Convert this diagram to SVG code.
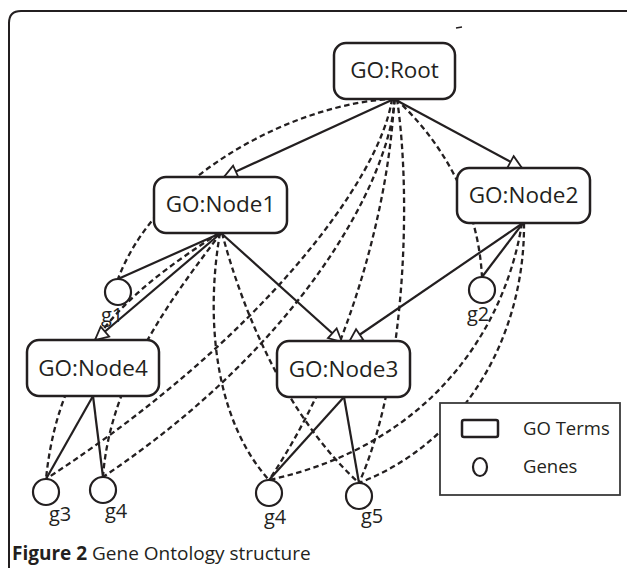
<svg xmlns="http://www.w3.org/2000/svg" width="627" height="568" viewBox="0 0 627 568">
<style>
.frame{fill:none;stroke:#231f20;stroke-width:2}
.box{fill:#fff;stroke:#231f20;stroke-width:2.5}
.gene{fill:#fff;stroke:#231f20;stroke-width:2.2}
.solid{fill:none;stroke:#231f20;stroke-width:2.2}
.dash{fill:none;stroke:#231f20;stroke-width:2.3;stroke-dasharray:5.5 3.5}
.t{font-family:"Open Sans","Liberation Sans",sans-serif;fill:#231f20}
.node{font-size:22.5px;text-anchor:middle}
.glbl{font-size:20px}
.leg{font-size:18.5px}
.cap{font-size:19px}
</style>
<defs>
<marker id="tri" viewBox="-2 -2 17 17" markerWidth="17" markerHeight="17" refX="13" refY="6.5" orient="auto" markerUnits="userSpaceOnUse">
<path d="M0,0 L13,6.5 L0,13 Z" fill="#fff" stroke="#231f20" stroke-width="1.8" stroke-linejoin="miter"/>
</marker>
</defs>
<rect width="627" height="568" fill="#fff"/>
<path class="frame" d="M9,568 V23 Q9,11 21,11 H627"/>
<path d="M456,28 L462,27" stroke="#231f20" stroke-width="1.5"/>

<g id="connectors">
<!-- dashed indirect annotations -->
<path class="dash" d="M394,99 C300,102 158,172 118,279"/>
<path class="dash" d="M396,99 C440,140 478,200 482,277"/>
<path class="dash" d="M392,99 C380,180 260,340 46,479"/>
<path class="dash" d="M395,99 C388,185 300,345 103,477"/>
<path class="dash" d="M394,99 C390,200 350,360 269,480"/>
<path class="dash" d="M397,99 C412,200 405,380 359,483"/>
<path class="dash" d="M219,233 C140,285 60,340 46,479"/>
<path class="dash" d="M221,233 C170,300 110,380 103,477"/>
<path class="dash" d="M220,233 C205,320 215,420 269,480"/>
<path class="dash" d="M222,233 C245,320 290,420 359,483"/>
<path class="dash" d="M522,223 C505,330 430,445 269,480"/>
<path class="dash" d="M524,223 C525,330 470,440 359,483"/>
<!-- solid relations -->
<path class="solid" d="M394,99 L224,177" marker-end="url(#tri)"/>
<path class="solid" d="M394,99 L522,168" marker-end="url(#tri)"/>
<path class="solid" d="M221,233 L118,279"/>
<path class="solid" d="M221,233 L95,340" marker-end="url(#tri)"/>
<path class="solid" d="M221,233 L342,342" marker-end="url(#tri)"/>
<path class="solid" d="M523,223 L349,342" marker-end="url(#tri)"/>
<path class="solid" d="M523,223 L482,277"/>
<path class="solid" d="M93,396 L46,479"/>
<path class="solid" d="M93,396 L103,477"/>
<path class="solid" d="M344,397 L269,480"/>
<path class="solid" d="M344,397 L359,483"/>
</g>

<g id="root">
<rect class="box" x="334" y="43" width="121" height="56" rx="12"/>
<text class="t node" x="394.5" y="78">GO:Root</text>
</g>
<g id="node1">
<rect class="box" x="154" y="177" width="133" height="56" rx="12"/>
<text class="t node" x="220.5" y="212">GO:Node1</text>
</g>
<g id="node2">
<rect class="box" x="457" y="168" width="133" height="55" rx="12"/>
<text class="t node" x="523.5" y="203">GO:Node2</text>
</g>
<g id="node4">
<rect class="box" x="27" y="340" width="132" height="56" rx="12"/>
<text class="t node" x="93" y="376">GO:Node4</text>
</g>
<g id="node3">
<rect class="box" x="277" y="341" width="133" height="56" rx="12"/>
<text class="t node" x="343.5" y="377">GO:Node3</text>
</g>

<g id="g1">
<circle class="gene" cx="118" cy="292" r="13"/>
<text class="t glbl" x="101" y="322">g1</text>
</g>
<g id="g2">
<circle class="gene" cx="482" cy="290" r="13"/>
<text class="t glbl" x="467" y="321">g2</text>
</g>
<g id="g3">
<circle class="gene" cx="46" cy="492" r="13"/>
<text class="t glbl" x="49" y="521">g3</text>
</g>
<g id="g4a">
<circle class="gene" cx="103" cy="490" r="13"/>
<text class="t glbl" x="105" y="518">g4</text>
</g>
<g id="g4b">
<circle class="gene" cx="269" cy="493" r="13"/>
<text class="t glbl" x="264" y="524">g4</text>
</g>
<g id="g5">
<circle class="gene" cx="359" cy="496" r="13"/>
<text class="t glbl" x="361" y="523">g5</text>
</g>

<g id="legend">
<rect x="440" y="403" width="180" height="92" fill="#fff" stroke="#3a3a3a" stroke-width="1.8"/>
<rect x="462" y="420" width="36" height="17" rx="2" fill="#fff" stroke="#231f20" stroke-width="2.5"/>
<text class="t leg" x="523" y="435">GO Terms</text>
<ellipse cx="480" cy="467" rx="7" ry="9" fill="#fff" stroke="#231f20" stroke-width="2.2"/>
<text class="t leg" x="523" y="473">Genes</text>
</g>

<g id="caption">
<text class="t cap" x="12" y="560"><tspan font-weight="bold">Figure 2</tspan> Gene Ontology structure</text>
</g>
</svg>
